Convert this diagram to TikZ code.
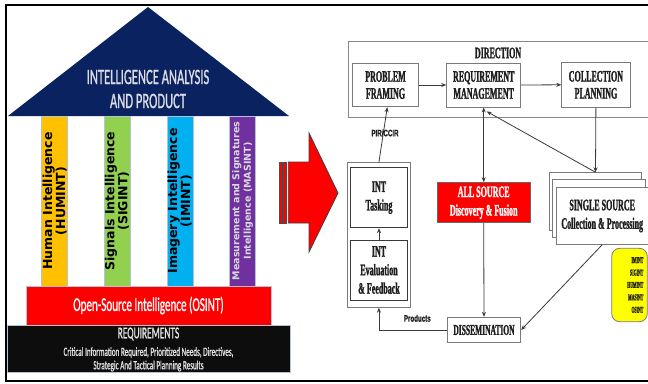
\documentclass[tikz,border=0pt]{standalone}
\usepackage{fontspec}
\setmainfont{Liberation Serif}
\newfontfamily\fntTNR[FakeStretch=0.5,FakeBold=1.2]{Liberation Serif Bold}
\newfontfamily\fntTNRs[FakeStretch=0.42,FakeBold=1]{Liberation Serif Bold}
\newfontfamily\fntCAL[FakeStretch=0.57,FakeBold=0.8]{Carlito}
\newfontfamily\fntARL[FakeStretch=0.65,FakeBold=0.5]{Liberation Sans Bold}
\newfontfamily\fntDVS{DejaVu Sans Bold}
\usetikzlibrary{arrows.meta}
\definecolor{roofblue}{HTML}{0B2260}
\definecolor{rooftext}{HTML}{DCDCE4}
\definecolor{pyel}{HTML}{FFC000}
\definecolor{pgrn}{HTML}{92D050}
\definecolor{pcyn}{HTML}{00B0F0}
\definecolor{ppur}{HTML}{7030A0}
\definecolor{pborder}{HTML}{B4C2D6}
\definecolor{reqblack}{HTML}{0D0D0D}
\definecolor{boxgray}{HTML}{7A7A7A}
\definecolor{linec}{HTML}{3A3A3A}
\definecolor{txtc}{HTML}{1E1E1E}
\definecolor{ylw}{HTML}{FFFF00}
\begin{document}
\begin{tikzpicture}[x=1pt,y=-1pt,
  pillar/.style={draw=pborder, line width=0.6, inner sep=0, rotate=90,
    minimum width=170, minimum height=26, align=center},
  pilltext/.style={font=\fntDVS\fontsize{12.5}{13}\selectfont, text=black},
  box/.style={draw=boxgray, line width=0.9, fill=white, inner sep=0, align=center,
    text=txtc, font=\fntTNR\fontsize{16}{18.5}\selectfont},
  arr/.style={draw=linec, line width=0.8, -{Stealth[length=5pt,width=4pt]}},
  arrb/.style={draw=linec, line width=0.8, {Stealth[length=5pt,width=4pt]}-{Stealth[length=5pt,width=4pt]}},
  small/.style={font=\fntARL\fontsize{9.5}{11}\selectfont, text=txtc, inner sep=0}
]
\useasboundingbox (0,0) rectangle (648,383);
\fill[white] (0,0) rectangle (648,383);
% outer frame
\draw[line width=2.6, black] (650,5) -- (6,5) -- (6,381) -- (650,381);

% ---------------- left: house ----------------
\fill[roofblue] (148,7) -- (289,116) -- (8,116) -- cycle;
\node[font=\fntCAL\fontsize{22}{24}\selectfont, text=rooftext, align=center, inner sep=0]
  (roofT) at (148,89) {INTELLIGENCE ANALYSIS\\AND PRODUCT};

\node[pillar, pilltext, fill=pyel] (hum) at (54.7,201) {Human Intelligence\\(HUMINT)};
\node[pillar, pilltext, fill=pgrn] (sig) at (117,201) {Signals Intelligence\\(SIGINT)};
\node[pillar, pilltext, fill=pcyn] (ima) at (179.8,201) {Imagery Intelligence\\(IMINT)};
\node[pillar, fill=ppur, font=\fntDVS\fontsize{9.5}{11.5}\selectfont, text=white!85!black]
  (mas) at (242.5,201) {Measurement and Signatures\\Intelligence (MASINT)};

\node[draw=pborder, line width=0.6, fill=red, minimum width=245, minimum height=39, inner sep=0,
  font=\fntCAL\fontsize{19.5}{21}\selectfont, text=white] (osint) at (148.5,305.5)
  {\raisebox{-3pt}{Open-Source Intelligence (OSINT)}};

\node[draw=pborder, line width=0.6, fill=reqblack, minimum width=283, minimum height=47, inner sep=0]
  (req) at (148.5,348.5) {};
\node[font=\fntCAL\fontsize{16.5}{18}\selectfont, text=white!90!black, inner sep=0] (reqT) at (148.5,334) {REQUIREMENTS};
\node[font=\fntCAL\fontsize{12.5}{13}\selectfont, text=white!90!black, inner sep=0] (reqA) at (148.5,352.5)
  {Critical Information Required, Prioritized Needs, Directives,};
\node[font=\fntCAL\fontsize{12.5}{13}\selectfont, text=white!90!black, inner sep=0] (reqB) at (148.5,366)
  {Strategic And Tactical Planning Results};

% ---------------- red arrow ----------------
\draw[fill=red, draw=black!70, line width=0.7] (279.3,162) rectangle (282,223);
\draw[fill=red, draw=black!70, line width=0.7] (283.5,162) rectangle (286.2,223);
\draw[fill=red, draw=black!75, line width=0.8]
  (288.3,162) -- (309,162) -- (309,133) -- (338,193) -- (309,252) -- (309,223) -- (288.3,223) -- cycle;

% ---------------- right: cycle ----------------
\node[draw=boxgray!90, line width=1.2, minimum width=320, minimum height=76, inner sep=0, anchor=north west]
  (dir) at (347.7,41) {};
\node[font=\fntTNR\fontsize{16}{18}\selectfont, text=txtc, inner sep=0] (dirT) at (498,53) {DIRECTION};

\node[box, minimum width=65.6, minimum height=43.4, font=\fntTNR\fontsize{16}{17}\selectfont]
  (pf) at (385.5,85) {PROBLEM\\FRAMING};
\node[box, minimum width=74, minimum height=44, font=\fntTNR\fontsize{16}{17}\selectfont]
  (rm) at (483.7,85) {REQUIREMENT\\MANAGEMENT};
\node[box, minimum width=68.3, minimum height=45, font=\fntTNR\fontsize{16}{17}\selectfont]
  (cp) at (595.9,84.8) {COLLECTION\\PLANNING};

\node[box, minimum width=62.3, minimum height=144.6] (into) at (378.9,235) {};
\node[box, draw=linec, minimum width=56.6, minimum height=60] (task) at (379,197.7) {INT\\Tasking};
\node[box, draw=linec, minimum width=56.6, minimum height=60] (eval) at (379,270) {INT\\Evaluation\\\&~Feedback};

\node[box, fill=red, draw=black!60, text=white, minimum width=92.7, minimum height=40]
  (all) at (483.7,202.7) {ALL SOURCE\\Discovery \& Fusion};

\node[box, minimum width=73.4, minimum height=25.4, font=\fntTNR\fontsize{15}{16}\selectfont]
  (dis) at (484,330) {DISSEMINATION};

\node[box, minimum width=92.4, minimum height=57.3] (ssa) at (595.5,201.35) {};
\node[box, minimum width=92.3, minimum height=58] (ssb) at (598.85,208.3) {};
\node[box, minimum width=92.5, minimum height=56.6] (ssc) at (602.2,216) {SINGLE SOURCE\\Collection \& Processing};

\node[draw=boxgray, line width=0.8, fill=ylw, rounded corners=8, minimum width=35.6, minimum height=73.4,
  inner sep=0, inner xsep=4, text width=27.6, align=right, text=txtc,
  font=\fntTNRs\fontsize{9}{12.4}\selectfont]
  (ylwbox) at (629.5,285) {IMINT\\SIGINT\\HUMINT\\MASINT\\OSINT};

% connectors
\draw[arr] (pf.east) -- (rm.west);
\draw[arr] (rm.east) -- (cp.west);
\draw[arr] (into.north) -- ([xshift=1.8]pf.south);
\node[small] (pir) at (385,133) {PIR/CCIR};
\draw[arrb] (all.north) -- (rm.south);
\draw[arr] (cp.south) -- (ssa.north);
\draw[arr] (ssa.north) -- ([xshift=3,yshift=-4]rm.south);
\draw[arr] (all.south) -- (dis.north);
\draw[arr] (ssc.south) -- (dis.east);
\draw[arr] (dis.west) -| (into.south);
\draw[arr] (eval.north) -- (task.south);
\node[small] (prod) at (417.3,318.3) {Products};
\end{tikzpicture}
\end{document}
